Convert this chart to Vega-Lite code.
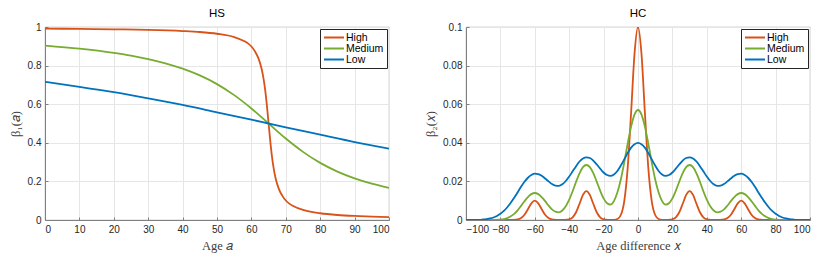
{
  "$schema": "https://vega.github.io/schema/vega-lite/v6.json",
  "padding": {"left": 8, "top": 7, "right": 8, "bottom": 5},
  "background": "white",
  "datasets": {
    "hs": [
      {"a": 0, "v": 0.992, "s": "High"}, {"a": 10, "v": 0.990, "s": "High"}, {"a": 20, "v": 0.988, "s": "High"}, {"a": 30, "v": 0.985, "s": "High"}, {"a": 40, "v": 0.979, "s": "High"}, {"a": 45, "v": 0.974, "s": "High"}, {"a": 50, "v": 0.965, "s": "High"}, {"a": 55, "v": 0.948, "s": "High"}, {"a": 58, "v": 0.926, "s": "High"}, {"a": 59, "v": 0.915, "s": "High"}, {"a": 60, "v": 0.899, "s": "High"}, {"a": 61, "v": 0.875, "s": "High"}, {"a": 62, "v": 0.840, "s": "High"}, {"a": 63, "v": 0.781, "s": "High"}, {"a": 63.5, "v": 0.735, "s": "High"}, {"a": 64, "v": 0.674, "s": "High"}, {"a": 64.5, "v": 0.594, "s": "High"}, {"a": 65, "v": 0.5, "s": "High"}, {"a": 65.5, "v": 0.406, "s": "High"}, {"a": 66, "v": 0.326, "s": "High"}, {"a": 66.5, "v": 0.265, "s": "High"}, {"a": 67, "v": 0.219, "s": "High"}, {"a": 68, "v": 0.160, "s": "High"}, {"a": 69, "v": 0.125, "s": "High"}, {"a": 70, "v": 0.101, "s": "High"}, {"a": 71, "v": 0.085, "s": "High"}, {"a": 72, "v": 0.074, "s": "High"}, {"a": 75, "v": 0.052, "s": "High"}, {"a": 80, "v": 0.035, "s": "High"}, {"a": 85, "v": 0.026, "s": "High"}, {"a": 90, "v": 0.021, "s": "High"}, {"a": 95, "v": 0.018, "s": "High"}, {"a": 100, "v": 0.015, "s": "High"},
      {"a": 0, "v": 0.904, "s": "Medium"}, {"a": 10, "v": 0.888, "s": "Medium"}, {"a": 20, "v": 0.866, "s": "Medium"}, {"a": 25, "v": 0.852, "s": "Medium"}, {"a": 30, "v": 0.834, "s": "Medium"}, {"a": 35, "v": 0.812, "s": "Medium"}, {"a": 40, "v": 0.784, "s": "Medium"}, {"a": 45, "v": 0.749, "s": "Medium"}, {"a": 50, "v": 0.704, "s": "Medium"}, {"a": 55, "v": 0.647, "s": "Medium"}, {"a": 60, "v": 0.578, "s": "Medium"}, {"a": 65, "v": 0.5, "s": "Medium"}, {"a": 70, "v": 0.422, "s": "Medium"}, {"a": 75, "v": 0.353, "s": "Medium"}, {"a": 80, "v": 0.296, "s": "Medium"}, {"a": 85, "v": 0.251, "s": "Medium"}, {"a": 90, "v": 0.216, "s": "Medium"}, {"a": 95, "v": 0.188, "s": "Medium"}, {"a": 100, "v": 0.166, "s": "Medium"},
      {"a": 0, "v": 0.716, "s": "Low"}, {"a": 10, "v": 0.690, "s": "Low"}, {"a": 20, "v": 0.662, "s": "Low"}, {"a": 30, "v": 0.630, "s": "Low"}, {"a": 40, "v": 0.596, "s": "Low"}, {"a": 50, "v": 0.558, "s": "Low"}, {"a": 60, "v": 0.520, "s": "Low"}, {"a": 65, "v": 0.5, "s": "Low"}, {"a": 70, "v": 0.480, "s": "Low"}, {"a": 80, "v": 0.442, "s": "Low"}, {"a": 90, "v": 0.404, "s": "Low"}, {"a": 100, "v": 0.370, "s": "Low"}
    ],
    "hc": [
      {"x": -100, "v": 0, "s": "High"}, {"x": -80, "v": 0, "s": "High"}, {"x": -76, "v": 0, "s": "High"}, {"x": -74, "v": 0, "s": "High"}, {"x": -72, "v": 0.0001, "s": "High"}, {"x": -70, "v": 0.0003, "s": "High"}, {"x": -68, "v": 0.0010, "s": "High"}, {"x": -66, "v": 0.0027, "s": "High"}, {"x": -64, "v": 0.0056, "s": "High"}, {"x": -62, "v": 0.0086, "s": "High"}, {"x": -60, "v": 0.0100, "s": "High"}, {"x": -58, "v": 0.0086, "s": "High"}, {"x": -56, "v": 0.0056, "s": "High"}, {"x": -54, "v": 0.0027, "s": "High"}, {"x": -52, "v": 0.0010, "s": "High"}, {"x": -50, "v": 0.0003, "s": "High"}, {"x": -48, "v": 0.0001, "s": "High"}, {"x": -46, "v": 0, "s": "High"}, {"x": -44, "v": 0, "s": "High"}, {"x": -42, "v": 0.0001, "s": "High"}, {"x": -40, "v": 0.0004, "s": "High"}, {"x": -38, "v": 0.0014, "s": "High"}, {"x": -36, "v": 0.0040, "s": "High"}, {"x": -34, "v": 0.0084, "s": "High"}, {"x": -32, "v": 0.0130, "s": "High"}, {"x": -30, "v": 0.0150, "s": "High"}, {"x": -28, "v": 0.0130, "s": "High"}, {"x": -26, "v": 0.0084, "s": "High"}, {"x": -24, "v": 0.0040, "s": "High"}, {"x": -22, "v": 0.0014, "s": "High"}, {"x": -20, "v": 0.0004, "s": "High"}, {"x": -18, "v": 0.0001, "s": "High"}, {"x": -16, "v": 0, "s": "High"}, {"x": -14, "v": 0.0001, "s": "High"}, {"x": -12, "v": 0.0005, "s": "High"}, {"x": -10, "v": 0.0026, "s": "High"}, {"x": -8, "v": 0.0097, "s": "High"}, {"x": -6, "v": 0.0269, "s": "High"}, {"x": -4, "v": 0.0557, "s": "High"}, {"x": -2, "v": 0.0864, "s": "High"}, {"x": 0, "v": 0.1000, "s": "High"}, {"x": 2, "v": 0.0864, "s": "High"}, {"x": 4, "v": 0.0557, "s": "High"}, {"x": 6, "v": 0.0269, "s": "High"}, {"x": 8, "v": 0.0097, "s": "High"}, {"x": 10, "v": 0.0026, "s": "High"}, {"x": 12, "v": 0.0005, "s": "High"}, {"x": 14, "v": 0.0001, "s": "High"}, {"x": 16, "v": 0, "s": "High"}, {"x": 18, "v": 0.0001, "s": "High"}, {"x": 20, "v": 0.0004, "s": "High"}, {"x": 22, "v": 0.0014, "s": "High"}, {"x": 24, "v": 0.0040, "s": "High"}, {"x": 26, "v": 0.0084, "s": "High"}, {"x": 28, "v": 0.0130, "s": "High"}, {"x": 30, "v": 0.0150, "s": "High"}, {"x": 32, "v": 0.0130, "s": "High"}, {"x": 34, "v": 0.0084, "s": "High"}, {"x": 36, "v": 0.0040, "s": "High"}, {"x": 38, "v": 0.0014, "s": "High"}, {"x": 40, "v": 0.0004, "s": "High"}, {"x": 42, "v": 0.0001, "s": "High"}, {"x": 44, "v": 0, "s": "High"}, {"x": 46, "v": 0, "s": "High"}, {"x": 48, "v": 0.0001, "s": "High"}, {"x": 50, "v": 0.0003, "s": "High"}, {"x": 52, "v": 0.0010, "s": "High"}, {"x": 54, "v": 0.0027, "s": "High"}, {"x": 56, "v": 0.0056, "s": "High"}, {"x": 58, "v": 0.0086, "s": "High"}, {"x": 60, "v": 0.0100, "s": "High"}, {"x": 62, "v": 0.0086, "s": "High"}, {"x": 64, "v": 0.0056, "s": "High"}, {"x": 66, "v": 0.0027, "s": "High"}, {"x": 68, "v": 0.0010, "s": "High"}, {"x": 70, "v": 0.0003, "s": "High"}, {"x": 72, "v": 0.0001, "s": "High"}, {"x": 74, "v": 0, "s": "High"}, {"x": 76, "v": 0, "s": "High"}, {"x": 80, "v": 0, "s": "High"}, {"x": 100, "v": 0, "s": "High"},

      {"x": -100, "v": 0, "s": "Medium"}, {"x": -90, "v": 0, "s": "Medium"}, {"x": -86, "v": 0, "s": "Medium"}, {"x": -84, "v": 0.00004, "s": "Medium"}, {"x": -82, "v": 0.0001, "s": "Medium"}, {"x": -80, "v": 0.0002, "s": "Medium"}, {"x": -78, "v": 0.0005, "s": "Medium"}, {"x": -76, "v": 0.0010, "s": "Medium"}, {"x": -74, "v": 0.0019, "s": "Medium"}, {"x": -72, "v": 0.0032, "s": "Medium"}, {"x": -70, "v": 0.0050, "s": "Medium"}, {"x": -68, "v": 0.0073, "s": "Medium"}, {"x": -66, "v": 0.0097, "s": "Medium"}, {"x": -64, "v": 0.0119, "s": "Medium"}, {"x": -62, "v": 0.0134, "s": "Medium"}, {"x": -60, "v": 0.0140, "s": "Medium"}, {"x": -58, "v": 0.0134, "s": "Medium"}, {"x": -56, "v": 0.0119, "s": "Medium"}, {"x": -54, "v": 0.0098, "s": "Medium"}, {"x": -52, "v": 0.0075, "s": "Medium"}, {"x": -50, "v": 0.0055, "s": "Medium"}, {"x": -48, "v": 0.0043, "s": "Medium"}, {"x": -46, "v": 0.0040, "s": "Medium"}, {"x": -44, "v": 0.0049, "s": "Medium"}, {"x": -42, "v": 0.0071, "s": "Medium"}, {"x": -40, "v": 0.0105, "s": "Medium"}, {"x": -38, "v": 0.0149, "s": "Medium"}, {"x": -36, "v": 0.0198, "s": "Medium"}, {"x": -34, "v": 0.0242, "s": "Medium"}, {"x": -32, "v": 0.0274, "s": "Medium"}, {"x": -30, "v": 0.0285, "s": "Medium"}, {"x": -28, "v": 0.0274, "s": "Medium"}, {"x": -26, "v": 0.0243, "s": "Medium"}, {"x": -24, "v": 0.0199, "s": "Medium"}, {"x": -22, "v": 0.0152, "s": "Medium"}, {"x": -20, "v": 0.0112, "s": "Medium"}, {"x": -18, "v": 0.0087, "s": "Medium"}, {"x": -16, "v": 0.0080, "s": "Medium"}, {"x": -14, "v": 0.0098, "s": "Medium"}, {"x": -12, "v": 0.0142, "s": "Medium"}, {"x": -10, "v": 0.0210, "s": "Medium"}, {"x": -8, "v": 0.0298, "s": "Medium"}, {"x": -6, "v": 0.0396, "s": "Medium"}, {"x": -4, "v": 0.0484, "s": "Medium"}, {"x": -2, "v": 0.0547, "s": "Medium"}, {"x": 0, "v": 0.0570, "s": "Medium"}, {"x": 2, "v": 0.0547, "s": "Medium"}, {"x": 4, "v": 0.0484, "s": "Medium"}, {"x": 6, "v": 0.0396, "s": "Medium"}, {"x": 8, "v": 0.0298, "s": "Medium"}, {"x": 10, "v": 0.0210, "s": "Medium"}, {"x": 12, "v": 0.0142, "s": "Medium"}, {"x": 14, "v": 0.0098, "s": "Medium"}, {"x": 16, "v": 0.0080, "s": "Medium"}, {"x": 18, "v": 0.0087, "s": "Medium"}, {"x": 20, "v": 0.0112, "s": "Medium"}, {"x": 22, "v": 0.0152, "s": "Medium"}, {"x": 24, "v": 0.0199, "s": "Medium"}, {"x": 26, "v": 0.0243, "s": "Medium"}, {"x": 28, "v": 0.0274, "s": "Medium"}, {"x": 30, "v": 0.0285, "s": "Medium"}, {"x": 32, "v": 0.0274, "s": "Medium"}, {"x": 34, "v": 0.0242, "s": "Medium"}, {"x": 36, "v": 0.0198, "s": "Medium"}, {"x": 38, "v": 0.0149, "s": "Medium"}, {"x": 40, "v": 0.0105, "s": "Medium"}, {"x": 42, "v": 0.0071, "s": "Medium"}, {"x": 44, "v": 0.0049, "s": "Medium"}, {"x": 46, "v": 0.0040, "s": "Medium"}, {"x": 48, "v": 0.0043, "s": "Medium"}, {"x": 50, "v": 0.0055, "s": "Medium"}, {"x": 52, "v": 0.0075, "s": "Medium"}, {"x": 54, "v": 0.0098, "s": "Medium"}, {"x": 56, "v": 0.0119, "s": "Medium"}, {"x": 58, "v": 0.0134, "s": "Medium"}, {"x": 60, "v": 0.0140, "s": "Medium"}, {"x": 62, "v": 0.0134, "s": "Medium"}, {"x": 64, "v": 0.0119, "s": "Medium"}, {"x": 66, "v": 0.0097, "s": "Medium"}, {"x": 68, "v": 0.0073, "s": "Medium"}, {"x": 70, "v": 0.0050, "s": "Medium"}, {"x": 72, "v": 0.0032, "s": "Medium"}, {"x": 74, "v": 0.0019, "s": "Medium"}, {"x": 76, "v": 0.0010, "s": "Medium"}, {"x": 78, "v": 0.0005, "s": "Medium"}, {"x": 80, "v": 0.0002, "s": "Medium"}, {"x": 82, "v": 0.0001, "s": "Medium"}, {"x": 84, "v": 0.00004, "s": "Medium"}, {"x": 86, "v": 0, "s": "Medium"}, {"x": 90, "v": 0, "s": "Medium"}, {"x": 100, "v": 0, "s": "Medium"},

      {"x": -100, "v": 0, "s": "Low"}, {"x": -98, "v": 0, "s": "Low"}, {"x": -96, "v": 0, "s": "Low"}, {"x": -94, "v": 0.0001, "s": "Low"}, {"x": -92, "v": 0.0001, "s": "Low"}, {"x": -90, "v": 0.0003, "s": "Low"}, {"x": -88, "v": 0.0005, "s": "Low"}, {"x": -86, "v": 0.0008, "s": "Low"}, {"x": -84, "v": 0.0013, "s": "Low"}, {"x": -82, "v": 0.0021, "s": "Low"}, {"x": -80, "v": 0.0032, "s": "Low"}, {"x": -78, "v": 0.0047, "s": "Low"}, {"x": -76, "v": 0.0066, "s": "Low"}, {"x": -74, "v": 0.0089, "s": "Low"}, {"x": -72, "v": 0.0115, "s": "Low"}, {"x": -70, "v": 0.0143, "s": "Low"}, {"x": -68, "v": 0.0172, "s": "Low"}, {"x": -66, "v": 0.0198, "s": "Low"}, {"x": -64, "v": 0.0219, "s": "Low"}, {"x": -62, "v": 0.0233, "s": "Low"}, {"x": -60, "v": 0.0240, "s": "Low"}, {"x": -58, "v": 0.0238, "s": "Low"}, {"x": -56, "v": 0.0229, "s": "Low"}, {"x": -54, "v": 0.0215, "s": "Low"}, {"x": -52, "v": 0.0200, "s": "Low"}, {"x": -50, "v": 0.0186, "s": "Low"}, {"x": -48, "v": 0.0178, "s": "Low"}, {"x": -46, "v": 0.0177, "s": "Low"}, {"x": -44, "v": 0.0185, "s": "Low"}, {"x": -42, "v": 0.0202, "s": "Low"}, {"x": -40, "v": 0.0225, "s": "Low"}, {"x": -38, "v": 0.0252, "s": "Low"}, {"x": -36, "v": 0.0279, "s": "Low"}, {"x": -34, "v": 0.0303, "s": "Low"}, {"x": -32, "v": 0.0319, "s": "Low"}, {"x": -30, "v": 0.0325, "s": "Low"}, {"x": -28, "v": 0.0321, "s": "Low"}, {"x": -26, "v": 0.0308, "s": "Low"}, {"x": -24, "v": 0.0288, "s": "Low"}, {"x": -22, "v": 0.0266, "s": "Low"}, {"x": -20, "v": 0.0246, "s": "Low"}, {"x": -18, "v": 0.0233, "s": "Low"}, {"x": -16, "v": 0.0229, "s": "Low"}, {"x": -14, "v": 0.0236, "s": "Low"}, {"x": -12, "v": 0.0254, "s": "Low"}, {"x": -10, "v": 0.0282, "s": "Low"}, {"x": -8, "v": 0.0314, "s": "Low"}, {"x": -6, "v": 0.0347, "s": "Low"}, {"x": -4, "v": 0.0375, "s": "Low"}, {"x": -2, "v": 0.0393, "s": "Low"}, {"x": 0, "v": 0.0400, "s": "Low"}, {"x": 2, "v": 0.0393, "s": "Low"}, {"x": 4, "v": 0.0375, "s": "Low"}, {"x": 6, "v": 0.0347, "s": "Low"}, {"x": 8, "v": 0.0314, "s": "Low"}, {"x": 10, "v": 0.0282, "s": "Low"}, {"x": 12, "v": 0.0254, "s": "Low"}, {"x": 14, "v": 0.0236, "s": "Low"}, {"x": 16, "v": 0.0229, "s": "Low"}, {"x": 18, "v": 0.0233, "s": "Low"}, {"x": 20, "v": 0.0246, "s": "Low"}, {"x": 22, "v": 0.0266, "s": "Low"}, {"x": 24, "v": 0.0288, "s": "Low"}, {"x": 26, "v": 0.0308, "s": "Low"}, {"x": 28, "v": 0.0321, "s": "Low"}, {"x": 30, "v": 0.0325, "s": "Low"}, {"x": 32, "v": 0.0319, "s": "Low"}, {"x": 34, "v": 0.0303, "s": "Low"}, {"x": 36, "v": 0.0279, "s": "Low"}, {"x": 38, "v": 0.0252, "s": "Low"}, {"x": 40, "v": 0.0225, "s": "Low"}, {"x": 42, "v": 0.0202, "s": "Low"}, {"x": 44, "v": 0.0185, "s": "Low"}, {"x": 46, "v": 0.0177, "s": "Low"}, {"x": 48, "v": 0.0178, "s": "Low"}, {"x": 50, "v": 0.0186, "s": "Low"}, {"x": 52, "v": 0.0200, "s": "Low"}, {"x": 54, "v": 0.0215, "s": "Low"}, {"x": 56, "v": 0.0229, "s": "Low"}, {"x": 58, "v": 0.0238, "s": "Low"}, {"x": 60, "v": 0.0240, "s": "Low"}, {"x": 62, "v": 0.0233, "s": "Low"}, {"x": 64, "v": 0.0219, "s": "Low"}, {"x": 66, "v": 0.0198, "s": "Low"}, {"x": 68, "v": 0.0172, "s": "Low"}, {"x": 70, "v": 0.0143, "s": "Low"}, {"x": 72, "v": 0.0115, "s": "Low"}, {"x": 74, "v": 0.0089, "s": "Low"}, {"x": 76, "v": 0.0066, "s": "Low"}, {"x": 78, "v": 0.0047, "s": "Low"}, {"x": 80, "v": 0.0032, "s": "Low"}, {"x": 82, "v": 0.0021, "s": "Low"}, {"x": 84, "v": 0.0013, "s": "Low"}, {"x": 86, "v": 0.0008, "s": "Low"}, {"x": 88, "v": 0.0005, "s": "Low"}, {"x": 90, "v": 0.0003, "s": "Low"}, {"x": 92, "v": 0.0001, "s": "Low"}, {"x": 94, "v": 0.0001, "s": "Low"}, {"x": 96, "v": 0, "s": "Low"}, {"x": 98, "v": 0, "s": "Low"}, {"x": 100, "v": 0, "s": "Low"}
    ]
  },
  "hconcat": [
    {
      "width": 344,
      "height": 193,
      "title": "HS",
      "data": {"name": "hs"},
      "mark": {"type": "line", "strokeWidth": 1.8, "interpolate": "monotone", "clip": true},
      "encoding": {
        "x": {"field": "a", "type": "quantitative", "scale": {"domain": [0, 100], "nice": false}, "axis": {"values": [0, 10, 20, 30, 40, 50, 60, 70, 80, 90, 100], "title": "Age 𝑎"}},
        "y": {"field": "v", "type": "quantitative", "scale": {"domain": [0, 1], "nice": false}, "axis": {"values": [0, 0.2, 0.4, 0.6, 0.8, 1], "format": "~g", "title": "β₁(𝑎)"}},
        "color": {"field": "s", "type": "nominal", "scale": {"domain": ["High", "Medium", "Low"], "range": ["#D95319", "#77AC30", "#0072BD"]},
          "legend": {"title": null, "orient": "top-right", "offset": 2, "fillColor": "white", "strokeColor": "#262626", "padding": 3, "labelFont": "Liberation Sans", "labelFontSize": 10.5, "labelColor": "#000000", "symbolType": "stroke", "symbolSize": 400, "symbolStrokeWidth": 2, "rowPadding": 0, "labelOffset": 1, "clipHeight": 11}}
      }
    },
    {
      "width": 344,
      "height": 193,
      "title": "HC",
      "data": {"name": "hc"},
      "mark": {"type": "line", "strokeWidth": 1.8, "interpolate": "monotone", "clip": true},
      "encoding": {
        "x": {"field": "x", "type": "quantitative", "scale": {"domain": [-100, 100], "nice": false}, "axis": {"values": [-100, -80, -60, -40, -20, 0, 20, 40, 60, 80, 100], "title": "Age difference 𝑥"}},
        "y": {"field": "v", "type": "quantitative", "scale": {"domain": [0, 0.1], "nice": false}, "axis": {"values": [0, 0.02, 0.04, 0.06, 0.08, 0.1], "format": "~g", "title": "β₂(𝑥)"}},
        "color": {"field": "s", "type": "nominal", "scale": {"domain": ["High", "Medium", "Low"], "range": ["#D95319", "#77AC30", "#0072BD"]},
          "legend": {"title": null, "orient": "top-right", "offset": 2, "fillColor": "white", "strokeColor": "#262626", "padding": 3, "labelFont": "Liberation Sans", "labelFontSize": 10.5, "labelColor": "#000000", "symbolType": "stroke", "symbolSize": 400, "symbolStrokeWidth": 2, "rowPadding": 0, "labelOffset": 1, "clipHeight": 11}}
      }
    }
  ],
  "spacing": 34,
  "resolve": {"scale": {"color": "independent"}, "legend": {"color": "independent"}},
  "config": {
    "view": {"stroke": "#808080", "strokeWidth": 0.8},
    "axis": {"labelFont": "Liberation Sans", "labelFontSize": 10, "labelColor": "#262626", "titleFont": "Liberation Serif", "titleFontSize": 12.5, "titleFontWeight": "normal", "titleColor": "#404040", "gridColor": "#e6e6e6", "domainColor": "#808080", "tickColor": "#808080", "tickSize": -3, "labelPadding": 7, "titlePadding": 5},
    "title": {"font": "Liberation Sans", "fontSize": 11.5, "fontWeight": "normal", "color": "#000000", "offset": 3}
  }
}
